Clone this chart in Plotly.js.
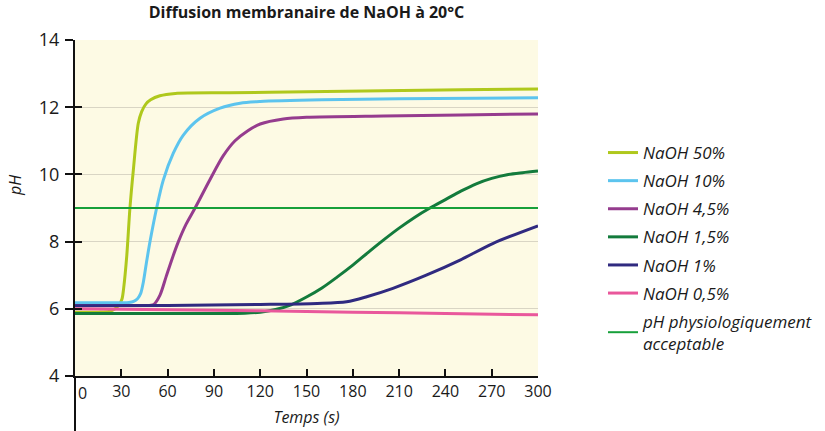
<!DOCTYPE html>
<html>
<head>
<meta charset="utf-8">
<script src="https://cdn.plot.ly/plotly-3.0.1.min.js"></script>
<style>html,body{margin:0;padding:0;background:#fff;}#chart{width:825px;height:431px;}</style>
</head>
<body>
<div id="chart"></div>
<script>
// ---- Data ----
const chartTitle = "Diffusion membranaire de NaOH à 20°C";
const xTitle = "Temps (s)";
const yTitle = "pH";
const xTickVals = [0, 30, 60, 90, 120, 150, 180, 210, 240, 270, 300];
const yTickVals = [4, 6, 8, 10, 12, 14];

const seriesNames = ["NaOH 50%", "NaOH 10%", "NaOH 4,5%", "NaOH 1,5%", "NaOH 1%", "NaOH 0,5%", "pH physiologiquement<br>acceptable"];
const seriesColors = ["#afc81c", "#5cc4ee", "#953c8e", "#137b3c", "#302a80", "#e9579b", "#17a03a"];

const t50  = [0, 15, 22, 26, 29, 30.5, 31.5, 33.5, 35.6, 37.8, 41, 43.2, 46, 49, 55, 65, 100, 150, 200, 250, 300];
const ph50 = [5.9, 5.9, 5.92, 6.0, 6.15, 6.3, 6.6, 7.55, 9.0, 10.13, 11.52, 11.87, 12.1, 12.22, 12.34, 12.41, 12.43, 12.46, 12.49, 12.52, 12.54];

const t10  = [0, 20, 35, 38, 40.5, 42.5, 44.3, 46.2, 48.6, 52.9, 57.2, 63.7, 70.2, 81, 94, 107, 120, 160, 210, 260, 300];
const ph10 = [6.18, 6.18, 6.19, 6.22, 6.3, 6.45, 6.8, 7.35, 8.0, 9.0, 9.83, 10.63, 11.17, 11.67, 11.97, 12.12, 12.17, 12.22, 12.25, 12.27, 12.28];

const t45  = [0, 30, 45, 51, 55, 59, 63, 67, 72, 77.8, 87.5, 96, 103.7, 112, 120, 135, 150, 200, 250, 300];
const ph45 = [6.1, 6.1, 6.1, 6.13, 6.4, 6.95, 7.5, 8.0, 8.52, 9.0, 9.85, 10.55, 11.0, 11.3, 11.5, 11.65, 11.7, 11.74, 11.77, 11.8];

const t15  = [0, 80, 110, 120, 130, 140, 150, 160, 170, 180, 190, 200, 210, 220, 230, 240, 250, 260, 270, 280, 290, 300];
const ph15 = [5.86, 5.86, 5.87, 5.9, 5.98, 6.12, 6.35, 6.62, 6.95, 7.3, 7.68, 8.05, 8.4, 8.72, 9.0, 9.25, 9.5, 9.72, 9.88, 9.99, 10.05, 10.1];

const t1   = [0, 60, 120, 157, 176, 189, 206, 227.6, 249.5, 271, 300];
const ph1  = [6.09, 6.1, 6.13, 6.16, 6.21, 6.36, 6.61, 7.0, 7.45, 7.95, 8.47];

const t05  = [0, 60, 120, 180, 240, 300];
const ph05 = [6.0, 5.97, 5.94, 5.9, 5.86, 5.82];

const tLimit  = [0, 300];
const phLimit = [9, 9];

// ---- Chart ----
const FONT = "Open Sans, Noto Sans, sans-serif";
const xs = [t50, t10, t45, t15, t1, t05];
const ys = [ph50, ph10, ph45, ph15, ph1, ph05];

const traces = xs.map((x, i) => ({
  x: x, y: ys[i], name: seriesNames[i], type: "scatter", mode: "lines",
  line: {color: seriesColors[i], width: 3, shape: "spline", smoothing: 0.8},
  legendgroup: "g" + i, hoverinfo: "skip"
}));
traces.push({
  x: tLimit, y: phLimit, name: seriesNames[6], type: "scatter", mode: "lines",
  line: {color: seriesColors[6], width: 2}, legendgroup: "g6", yaxis: "y2", hoverinfo: "skip"
});

// italic legend text
traces.forEach(tr => { tr.name = "<i>" + tr.name.replace("<br>", "</i><br><i>") + "</i>"; });

const layout = {
  width: 825, height: 431,
  margin: {l: 75, r: 287, t: 40, b: 55},
  paper_bgcolor: "#ffffff",
  plot_bgcolor: "#fdfae4",
  font: {family: FONT, color: "#1a1a1a", size: 16},
  title: {text: "<b>" + chartTitle + "</b>", font: {family: FONT, size: 16, color: "#1a1a1a"},
          x: 0.5, xref: "paper", xanchor: "center", y: 1 - 12/431, yref: "container", yanchor: "middle"},
  xaxis: {
    range: [0, 300], tickvals: xTickVals,
    ticktext: xTickVals.map(v => v === 0 ? "" : String(v)),
    ticks: "inside", ticklen: 7, tickwidth: 2, tickcolor: "#111",
    showline: true, linewidth: 2, linecolor: "#111",
    showgrid: false, zeroline: false,
    tickfont: {size: 16, family: FONT},
    title: {text: "<i>" + xTitle + "</i>", font: {size: 16, family: FONT}, standoff: 11}
  },
  yaxis: {
    range: [4, 14], tickvals: yTickVals,
    ticks: "outside", ticklen: 8, tickwidth: 2, tickcolor: "#111",
    ticklabelstandoff: 2,
    showline: true, linewidth: 2, linecolor: "#111",
    showgrid: true, gridcolor: "#d9d5c4", gridwidth: 1, zeroline: false,
    tickfont: {size: 18, family: FONT}
  },
  yaxis2: {
    range: [4, 14], tickvals: yTickVals, overlaying: "y", side: "left",
    ticks: "inside", ticklen: 7, tickwidth: 2, tickcolor: "#111",
    showticklabels: false, showline: false, showgrid: false, zeroline: false
  },
  showlegend: true,
  legend: {
    x: 603/825, xref: "container", xanchor: "left",
    y: 1 - 135/431, yref: "container", yanchor: "top",
    traceorder: "grouped", tracegroupgap: 3, maxheight: 1,
    font: {family: FONT, size: 17, color: "#1a1a1a"},
    bgcolor: "rgba(0,0,0,0)", borderwidth: 0
  },
  shapes: [
    {type: "line", xref: "paper", yref: "paper", x0: 0, x1: 0, y0: 0, y1: -55/336,
     line: {color: "#111", width: 2}}
  ],
  annotations: [
    {text: "0", xref: "x", yref: "paper", x: 0, y: 0, xanchor: "left", yanchor: "top",
     yshift: -4, xshift: 1, showarrow: false, font: {size: 16, family: FONT, color: "#1a1a1a"}},
    {text: "<i>" + yTitle + "</i>", xref: "paper", yref: "paper", x: (15 - 75)/463, y: (376 - 185)/336,
     xanchor: "center", yanchor: "middle", textangle: -90, showarrow: false,
     font: {size: 16, family: FONT, color: "#1a1a1a"}}
  ]
};

Plotly.newPlot("chart", traces, layout, {staticPlot: true, displayModeBar: false});
</script>
</body>
</html>
